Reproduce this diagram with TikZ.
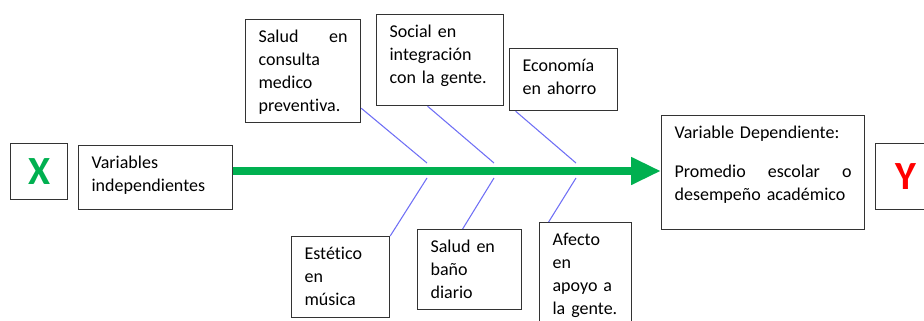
\documentclass[tikz,border=0pt]{standalone}
\usepackage{fontspec}
\setmainfont{Carlito}[Ligatures=NoCommon, Contextuals=NoAlternate]
\usetikzlibrary{arrows.meta, positioning}
\definecolor{xgreen}{HTML}{00B050}
\definecolor{bonecol}{HTML}{6F6FF5}

\begin{document}
\begin{tikzpicture}[x=0.75pt, y=-0.75pt, >={Triangle[length=22.5pt, width=19.5pt]},
    box/.style={draw=black!80, line width=0.9pt, anchor=north west, inner xsep=9.75pt,
                inner ysep=0pt, align=left, text height=17.25pt,
                font=\fontsize{13.5}{17.25}\selectfont},
    letter/.style={draw=black!80, line width=0.9pt, anchor=north west, inner sep=0pt,
                   font=\bfseries\fontsize{30}{30}\selectfont},
    bone/.style={draw=bonecol, line width=0.8pt},
    spine/.style={draw=xgreen, line width=6pt, ->}]
    \clip (0,0) rectangle (924,321);
    %define the boxes
    \node[letter, text=xgreen, minimum width=42.75pt, minimum height=42pt] (X) at (10,143) {\raisebox{-3pt}{X}};
    \node[box, text width=96pt, text depth=30.75pt] (var) at (78,145) {Variables\\independientes};
    \node[box, text width=66.75pt, text depth=60pt] (salud) at (245,19) {Salud \hfill en\\consulta\\medico\\preventiva.};
    \node[box, text width=75.75pt, text depth=51pt] (social) at (376,14) {Social en\\integración\\con la gente.};
    \node[box, text width=61.5pt, text depth=29.25pt] (econ) at (509,48) {Economía\\en ahorro};
    \node[box, text width=54pt, text depth=43.5pt] (estetico) at (291,236) {Estético\\en\\música};
    \node[box, text width=58.5pt, text depth=42.75pt] (bano) at (417,229) {Salud en\\baño\\diario};
    \node[box, text width=49.5pt, text depth=65.25pt] (afecto) at (539,222) {Afecto\\en\\apoyo a\\la gente.};
    \node[box, text width=132.75pt, text depth=68.25pt] (dep) at (661,115) {Variable Dependiente:\\[12pt]Promedio \hfill escolar \hfill o\\desempeño académico};
    \node[letter, text=red, minimum width=45pt, minimum height=49.5pt] (Y) at (875,143) {\raisebox{-3pt}{Y}};

    %define the joints on the spine
    \coordinate (j1a) at (427,163);  \coordinate (j1b) at (427,178);
    \coordinate (j2a) at (494,163);  \coordinate (j2b) at (494,178);
    \coordinate (j3a) at (576,163);  \coordinate (j3b) at (576,178);

    %define the links
    \path[spine] (var.east |- 0,171) -- (dep.west |- 0,171);
    \path[bone] ([yshift=11.25pt]salud.south east) -- (j1a)
                ([xshift=-9.4pt]social.south) -- (j2a)
                ([xshift=-36pt]econ.south) -- (j3a)
                (j1b) -- (estetico.north east)
                (j2b) -- ([xshift=-5.25pt]bano.north)
                (j3b) -- ([xshift=-27.75pt]afecto.north);
\end{tikzpicture}
\end{document}
